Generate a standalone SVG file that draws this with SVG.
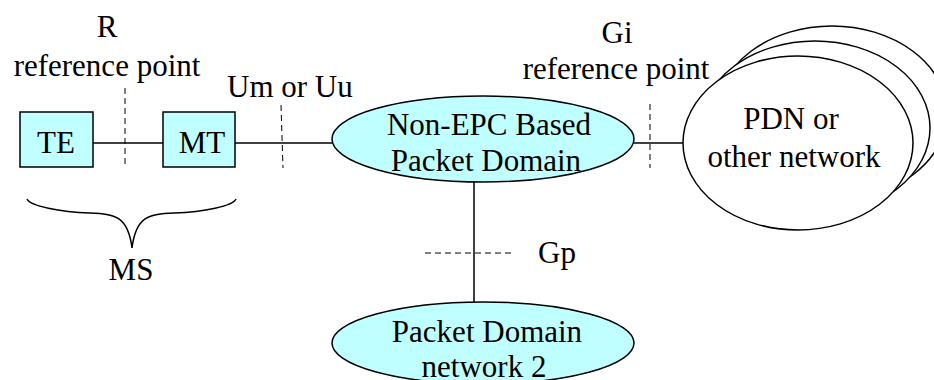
<svg xmlns="http://www.w3.org/2000/svg" width="934" height="380" viewBox="0 0 934 380">
<style>
text{font-family:'Liberation Serif','Times New Roman',Times,'DejaVu Serif',serif;font-size:31px;fill:#000}
.m{text-anchor:middle}
.node{fill:#C0FFFF;stroke:#000;stroke-width:1.5}
.cloud{fill:#fff;stroke:#000;stroke-width:1.5}
.ln{stroke:#000;stroke-width:1.5;fill:none}
.dash{stroke:#000;stroke-width:1;stroke-dasharray:6,4;fill:none}
</style>
<rect width="934" height="380" fill="#fff"/>
<g id="connectors">
<line class="ln" x1="93" y1="143" x2="163" y2="143"/>
<line class="ln" x1="235" y1="143" x2="332" y2="143"/>
<line class="ln" x1="634" y1="143" x2="683" y2="143"/>
<line class="ln" x1="474" y1="181" x2="474" y2="302"/>
</g>
<g font-family="Liberation Serif, serif">
<g id="ref-R">
<line class="dash" x1="125" y1="88" x2="125" y2="167"/>
<text class="m" x="107" y="37">R</text>
<text class="m" x="107" y="76">reference point</text>
</g>
<g id="ref-Um">
<line class="dash" x1="281" y1="105" x2="283" y2="168"/>
<text x="227" y="97">Um or Uu</text>
</g>
<g id="ref-Gi">
<line class="dash" x1="650" y1="104" x2="650" y2="168"/>
<text class="m" x="617" y="43">Gi</text>
<text class="m" x="616" y="79">reference point</text>
</g>
<g id="ref-Gp">
<line class="dash" x1="425" y1="253" x2="515" y2="253"/>
<text x="538" y="263">Gp</text>
</g>
<g id="TE">
<rect class="node" x="20" y="112" width="73" height="55"/>
<text class="m" x="56" y="153">TE</text>
</g>
<g id="MT">
<rect class="node" x="163" y="112" width="72" height="55"/>
<text class="m" x="202" y="153">MT</text>
</g>
<g id="MS">
<path class="ln" d="M27,199 C30,206 60,212 90,213 C115,214 128,216 132,248 C136,216 149,214 174,213 C204,212 233,206 236,199"/>
<text class="m" x="131" y="280">MS</text>
</g>
<g id="non-epc">
<ellipse class="node" cx="483" cy="139" rx="151" ry="43"/>
<text class="m" x="489" y="135">Non-EPC Based</text>
<text class="m" x="486" y="171">Packet Domain</text>
</g>
<g id="pdn">
<ellipse class="cloud" cx="832" cy="113" rx="115" ry="87"/>
<ellipse class="cloud" cx="815" cy="128" rx="115" ry="87"/>
<ellipse class="cloud" cx="798" cy="143" rx="115" ry="87"/>
<text class="m" x="791" y="129">PDN or</text>
<text class="m" x="794" y="167">other network</text>
</g>
<g id="pd2">
<ellipse class="node" cx="483" cy="343" rx="151" ry="41"/>
<text class="m" x="487" y="342">Packet Domain</text>
<text class="m" x="484" y="377">network 2</text>
</g>
</g>
</svg>
